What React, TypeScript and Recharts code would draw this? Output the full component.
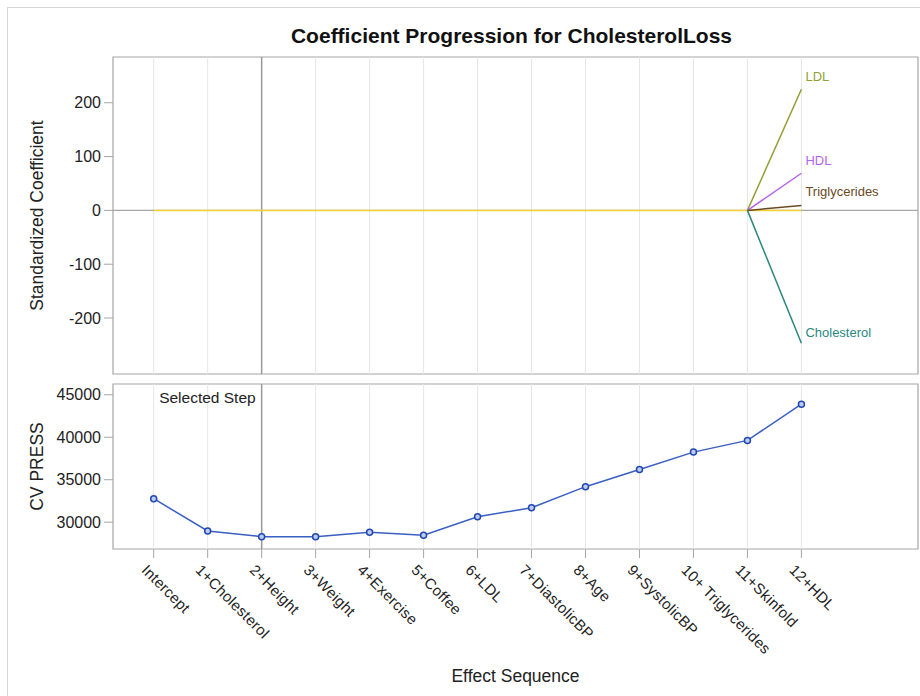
import React from 'react';
import {
  LineChart,
  Line,
  XAxis,
  YAxis,
  ReferenceLine,
  ReferenceArea,
} from 'recharts';

const effects = [
  'Intercept',
  '1+Cholesterol',
  '2+Height',
  '3+Weight',
  '4+Exercise',
  '5+Coffee',
  '6+LDL',
  '7+DiastolicBP',
  '8+Age',
  '9+SystolicBP',
  '10+ Triglycerides',
  '11+Skinfold',
  '12+HDL',
];

// standardized coefficients
const otherCoef = [0, 0, 0, 0, 0, 0, 0, 0, 0, 0, 0, 0, 0];
const ldlCoef = [null, null, null, null, null, null, null, null, null, null, null, 0, 225];
const hdlCoef = [null, null, null, null, null, null, null, null, null, null, null, 0, 69];
const trigCoef = [null, null, null, null, null, null, null, null, null, null, null, 0, 9];
const cholCoef = [null, null, null, null, null, null, null, null, null, null, null, 0, -247];

// CV PRESS per step
const cvPress = [32760, 28970, 28290, 28290, 28815, 28470, 30630, 31700, 34180, 36200, 38250, 39630, 43900];

const coefTicks = [-200, -100, 0, 100, 200];
const pressTicks = [30000, 35000, 40000, 45000];
const selectedStep = 2;

const X_DOMAIN: [number, number] = [-0.754, 14.16];
const COEF_DOMAIN: [number, number] = [-304, 285];
const PRESS_DOMAIN: [number, number] = [26840, 46270];

const steps = effects.map((_, i) => i);

const coefData = effects.map((effect, i) => ({
  step: i,
  effect,
  other: otherCoef[i],
  ldl: ldlCoef[i],
  hdl: hdlCoef[i],
  trig: trigCoef[i],
  chol: cholCoef[i],
}));

const pressData = effects.map((effect, i) => ({ step: i, effect, press: cvPress[i] }));

const FONT = '"Liberation Sans", Arial, sans-serif';
const FRAME = '#a6a6a6';
const GRID = '#e6e6e6';

const series = [
  { key: 'ldl', name: 'LDL', color: '#939f35', dy: -8 },
  { key: 'hdl', name: 'HDL', color: '#b565ec', dy: -8 },
  { key: 'trig', name: 'Triglycerides', color: '#6b4a25', dy: -10 },
  { key: 'chol', name: 'Cholesterol', color: '#2b877f', dy: -6 },
];

const endLabel = (name: string, color: string, dy: number) => (props: any) => {
  const { x, y, index } = props;
  if (index !== effects.length - 1) return <g />;
  return (
    <text x={x + 4} y={y + dy} fill={color} fontSize={13} fontFamily={FONT}>
      {name}
    </text>
  );
};

const yTitle = (text: string) => (props: any) => {
  const vb = props.viewBox || {};
  const cy = vb.y + vb.height / 2;
  return (
    <text
      x={37}
      y={cy}
      transform={`rotate(-90 37 ${cy})`}
      textAnchor="middle"
      dominantBaseline="central"
      fontSize={17.5}
      fill="#222"
      fontFamily={FONT}
    >
      {text}
    </text>
  );
};

const EffectTick = (props: any) => {
  const { x, y, payload } = props;
  return (
    <g transform={`translate(${x},${y})`}>
      <text
        x={0}
        y={0}
        transform="translate(-13,13) rotate(45)"
        fontSize={15}
        letterSpacing={0.3}
        fill="#222"
        fontFamily={FONT}
      >
        {effects[payload.value]}
      </text>
    </g>
  );
};

const yTick = { fill: '#222', fontSize: 16, fontFamily: FONT };

export default function App() {
  return (
    <div
      style={{
        position: 'absolute',
        left: 0,
        top: 0,
        width: 920,
        height: 696,
        background: '#fff',
        overflow: 'hidden',
        fontFamily: FONT,
      }}
    >
      <div
        style={{
          position: 'absolute',
          left: 7,
          top: 7,
          width: 930,
          height: 710,
          borderLeft: '1px solid #d6d6d6',
          borderTop: '1px solid #d6d6d6',
        }}
      />
      <div
        style={{
          position: 'absolute',
          left: 109,
          width: 805,
          top: 24,
          textAlign: 'center',
          fontSize: 21,
          fontWeight: 'bold',
          color: '#111',
          whiteSpace: 'nowrap',
        }}
      >
        Coefficient Progression for CholesterolLoss
      </div>

      <div style={{ position: 'absolute', left: 0, top: 0 }}>
        <LineChart
          width={920}
          height={384}
          data={coefData}
          margin={{ top: 57, right: 2, bottom: 10, left: 0 }}
        >
          <XAxis
            dataKey="step"
            type="number"
            domain={X_DOMAIN}
            ticks={steps}
            allowDataOverflow
            hide
          />
          <YAxis
            type="number"
            domain={COEF_DOMAIN}
            ticks={coefTicks}
            allowDataOverflow
            width={113}
            axisLine={false}
            tickLine={{ stroke: FRAME }}
            tickSize={9}
            tickMargin={3}
            interval={0}
            tick={yTick}
            label={yTitle('Standardized Coefficient')}
          />
          {steps.map((s) => (
            <ReferenceLine key={s} x={s} stroke={GRID} strokeWidth={1} />
          ))}
          <ReferenceLine y={0} stroke={FRAME} strokeWidth={1.2} />
          <ReferenceLine x={selectedStep} stroke="#999" strokeWidth={1.5} />
          <Line
            dataKey="other"
            stroke="#f3d233"
            strokeWidth={1.5}
            dot={false}
            isAnimationActive={false}
          />
          {series.map((s) => (
            <Line
              key={s.key}
              dataKey={s.key}
              stroke={s.color}
              strokeWidth={1.5}
              dot={false}
              isAnimationActive={false}
              label={endLabel(s.name, s.color, s.dy)}
            />
          ))}
          <ReferenceArea
            x1={X_DOMAIN[0]}
            x2={X_DOMAIN[1]}
            y1={COEF_DOMAIN[0]}
            y2={COEF_DOMAIN[1]}
            fill="none"
            fillOpacity={0}
            stroke={FRAME}
            strokeWidth={1.2}
          />
        </LineChart>
      </div>

      <div style={{ position: 'absolute', left: 0, top: 374 }}>
        <LineChart
          width={920}
          height={322}
          data={pressData}
          margin={{ top: 10, right: 2, bottom: 0, left: 0 }}
        >
          <XAxis
            dataKey="step"
            type="number"
            domain={X_DOMAIN}
            ticks={steps}
            allowDataOverflow
            interval={0}
            height={147}
            axisLine={false}
            tickLine={{ stroke: FRAME }}
            tickSize={9}
            tickMargin={0}
            tick={<EffectTick />}
            label={{
              value: 'Effect Sequence',
              position: 'insideBottom',
              offset: 14,
              fontSize: 17.5,
              fill: '#222',
              fontFamily: FONT,
            }}
          />
          <YAxis
            type="number"
            domain={PRESS_DOMAIN}
            ticks={pressTicks}
            allowDataOverflow
            width={113}
            axisLine={false}
            tickLine={{ stroke: FRAME }}
            tickSize={9}
            tickMargin={3}
            interval={0}
            tick={yTick}
            label={yTitle('CV PRESS')}
          />
          {steps.map((s) => (
            <ReferenceLine key={s} x={s} stroke={GRID} strokeWidth={1} />
          ))}
          <ReferenceLine
            x={selectedStep}
            stroke="#999"
            strokeWidth={1.5}
            label={(p: any) => {
              const vb = p.viewBox || {};
              return (
                <text
                  x={vb.x - 6}
                  y={vb.y + 19}
                  textAnchor="end"
                  fontSize={15.5}
                  fill="#222"
                  fontFamily={FONT}
                >
                  Selected Step
                </text>
              );
            }}
          />
          <Line
            dataKey="press"
            stroke="#3a5fc2"
            strokeWidth={1.5}
            dot={{ r: 3, stroke: '#2148b0', strokeWidth: 1.5, fill: '#bccbef' }}
            isAnimationActive={false}
          />
          <ReferenceArea
            x1={X_DOMAIN[0]}
            x2={X_DOMAIN[1]}
            y1={PRESS_DOMAIN[0]}
            y2={PRESS_DOMAIN[1]}
            fill="none"
            fillOpacity={0}
            stroke={FRAME}
            strokeWidth={1.2}
          />
        </LineChart>
      </div>
    </div>
  );
}
